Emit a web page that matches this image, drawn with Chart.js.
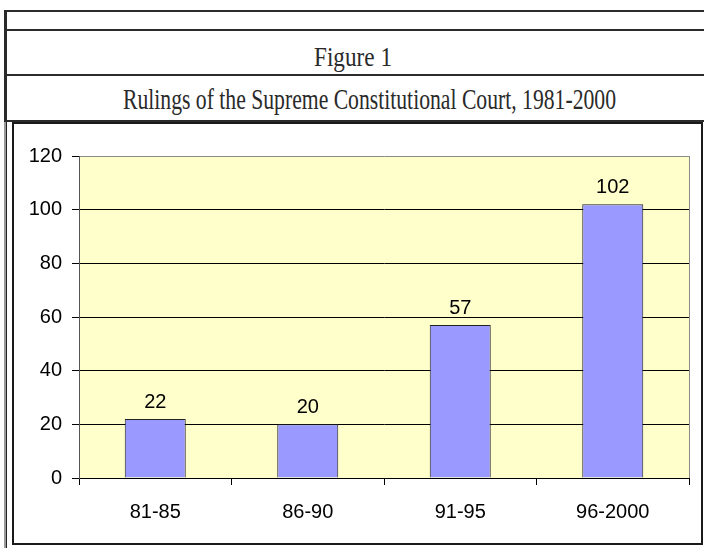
<!DOCTYPE html>
<html>
<head>
<meta charset="utf-8">
<script src="https://cdn.jsdelivr.net/npm/chart.js@4.4.1/dist/chart.umd.min.js"></script>
<style>
  html, body { margin: 0; padding: 0; background: #fff; }
  #wrap { position: relative; width: 704px; height: 548px; overflow: hidden; }
  .ln { position: absolute; background: #2b2b2b; }
  .ttl { position: absolute; font-family: "Liberation Serif", "DejaVu Serif", serif; color: #2a2a2a;
         line-height: 1; white-space: nowrap; transform-origin: 0 0; }
  #box { position: absolute; left: 12px; top: 122px; width: 687px; height: 419px; border: 2px solid #1a1a1a; }
  canvas { position: absolute; left: 0; top: 0; }
</style>
</head>
<body>
<div id="wrap">
  <div class="ln" style="left:4px;top:10px;width:700px;height:2px;"></div>
  <div class="ln" style="left:4px;top:29px;width:700px;height:2px;"></div>
  <div class="ln" style="left:4px;top:74px;width:700px;height:2px;"></div>
  <div class="ln" style="left:4px;top:120px;width:700px;height:2px;"></div>
  <div class="ln" style="left:4px;top:10px;width:3px;height:112px;"></div>
  <div class="ln" style="left:4px;top:122px;width:2px;height:426px;background:#9a9a9a;"></div>
  <div class="ln" style="left:6px;top:122px;width:1px;height:426px;background:#222;"></div>
  <div id="box"></div>
  <div class="ttl" id="t1" style="font-size:27px;">Figure 1</div>
  <div class="ttl" id="t2" style="font-size:30px;">Rulings of the Supreme Constitutional Court, 1981-2000</div>
  <canvas id="c" width="704" height="548"></canvas>
</div>
<script>
// ---- data ----
const categories = ["81-85", "86-90", "91-95", "96-2000"];
const rulings = [22, 20, 57, 102];
const yTicks = [0, 20, 40, 60, 80, 100, 120];

// ---- title layout (fit widths to reference) ----
function placeTitle(id, left, right, baseline, fontPx) {
  const el = document.getElementById(id);
  const w = el.getBoundingClientRect().width;
  const s = (right - left) / w;
  el.style.left = left + "px";
  el.style.top = (baseline - 0.8375 * fontPx) + "px";
  el.style.transform = "scaleX(" + s + ")";
}
placeTitle("t1", 314, 392, 67, 27);
placeTitle("t2", 123, 616, 109, 30);

const SANS = '"Liberation Sans", Arial, sans-serif';

const plotDecor = {
  id: 'plotDecor',
  beforeDraw(chart) {
    const { ctx, chartArea: a } = chart;
    ctx.save();
    ctx.fillStyle = '#FFFFCC';
    ctx.fillRect(a.left, a.top, a.right - a.left, a.bottom - a.top);
    ctx.restore();
  },
  afterDraw(chart) {
    const { ctx, chartArea: a } = chart;
    ctx.save();
    ctx.strokeStyle = '#8a8a8a';
    ctx.lineWidth = 1;
    ctx.beginPath();
    ctx.moveTo(a.right + 0.5, a.top);
    ctx.lineTo(a.right + 0.5, a.bottom);
    ctx.stroke();
    ctx.restore();
  }
};

const valueLabels = {
  id: 'valueLabels',
  afterDatasetsDraw(chart) {
    const { ctx } = chart;
    const meta = chart.getDatasetMeta(0);
    ctx.save();
    ctx.font = '20px ' + SANS;
    ctx.fillStyle = '#000';
    ctx.textAlign = 'center';
    ctx.textBaseline = 'alphabetic';
    meta.data.forEach((bar, i) => {
      ctx.fillText(String(chart.data.datasets[0].data[i]), bar.x, bar.y - 11);
    });
    ctx.restore();
  }
};

new Chart(document.getElementById('c'), {
  type: 'bar',
  data: {
    labels: categories,
    datasets: [{
      data: rulings,
      backgroundColor: '#9999FF',
      borderColor: '#222',
      borderWidth: 1,
      categoryPercentage: 1.0,
      barPercentage: 0.4
    }]
  },
  options: {
    responsive: false,
    animation: false,
    devicePixelRatio: 1,
    layout: { padding: { left: 0, top: 156, right: 15, bottom: 0 } },
    plugins: { legend: { display: false }, tooltip: { enabled: false }, title: { display: false } },
    scales: {
      x: {
        offset: true,
        grid: { offset: true, drawOnChartArea: false, drawTicks: true, tickLength: 7, color: '#000', lineWidth: 1 },
        border: { color: '#000', width: 1 },
        ticks: { font: { size: 20, family: SANS }, color: '#000', padding: 15, maxRotation: 0 },
        afterFit(s) { s.height = 70; s.paddingLeft = 0; s.paddingRight = 0; }
      },
      y: {
        min: 0, max: 120,
        afterBuildTicks(s) { s.ticks = yTicks.map(v => ({ value: v })); },
        grid: {
          drawTicks: true, tickLength: 7, lineWidth: 1,
          color: (c) => (c.tick && c.tick.value === 120) ? '#8a8a8a' : '#000',
          tickColor: '#000'
        },
        border: { color: '#555', width: 1 },
        ticks: { font: { size: 20, family: SANS }, color: '#000', padding: 10 },
        afterFit(s) { s.width = 79; s.paddingTop = 0; s.paddingBottom = 0; }
      }
    }
  },
  plugins: [plotDecor, valueLabels]
});
</script>
</body>
</html>
